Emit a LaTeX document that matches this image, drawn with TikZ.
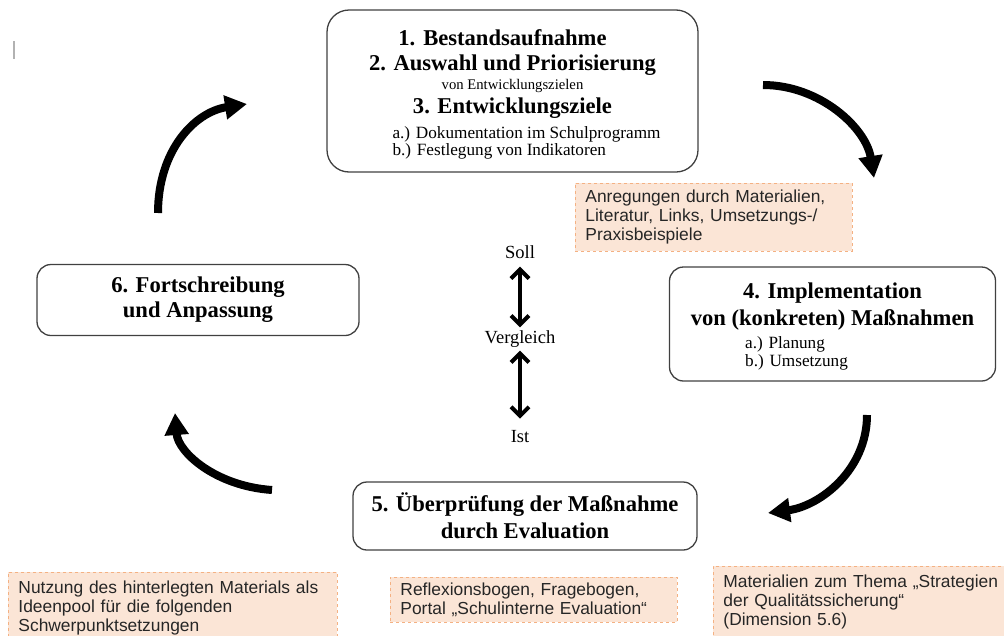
\documentclass[tikz,border=0pt]{standalone}
\usepackage{fontspec}
\setmainfont{Liberation Serif}
\newfontfamily\arialfont{Liberation Sans}
\usetikzlibrary{arrows.meta}
\definecolor{hintfill}{HTML}{FBE5D6}
\definecolor{hintline}{HTML}{F4B183}
\definecolor{boxline}{HTML}{404040}
\newcommand\headfont{\fontsize{22.6}{26}\bfseries\selectfont}
\newcommand\subfont{\fontsize{17.2}{17.5}\mdseries\selectfont}
\newcommand\smallerfont{\fontsize{14.7}{16}\mdseries\selectfont}
\newcommand\hintfont{\arialfont\fontsize{17.4}{19}\selectfont}

\begin{document}
\begin{tikzpicture}[x=1pt, y=-1pt,
            > = {Straight Barb[length=9pt,width=18pt]},
stepbox/.style = {draw=boxline, line width=1.3pt, rounded corners=14pt,
                  align=center, inner sep=0pt, font=\headfont},
   hint/.style = {fill=hintfill, draw=hintline, dashed, line width=0.9pt,
                  anchor=north west, align=left, inner xsep=10pt, inner ysep=0pt,
                  text=black!85, font=\hintfont},
  cycle/.style = {line width=8pt, -{Triangle[length=22pt,width=23pt]}},
compare/.style = {line width=4pt, <->},
  label/.style = {font=\fontsize{18.5}{20}\selectfont, inner sep=3pt}
                        ]
\useasboundingbox (0,0) rectangle (1004,635);
% stray mark
\draw[gray!60, line width=1.6pt] (14,41) -- (14,59);
% phase boxes
\node[stepbox, rounded corners=22pt, minimum width=371pt, minimum height=162pt] (plan) at (512.5,91)
    {\rule{0pt}{24pt}1.\hspace{0.35em}Bestandsaufnahme\hspace*{20pt}\\[-1pt]
     2. Auswahl und Priorisierung\\[-7pt]
     {\smallerfont von Entwicklungszielen}\\[-2pt]
     3. Entwicklungsziele\\[-1pt]
     \hspace*{28pt}{\subfont\begin{tabular}[t]{@{}l@{}}a.) Dokumentation im Schulprogramm\\ b.) Festlegung von Indikatoren\end{tabular}}};
\node[stepbox, minimum width=326pt, minimum height=114pt] (impl) at (832.5,324)
    {\rule{0pt}{22pt}4. Implementation\\[1pt]
     von (konkreten) Maßnahmen\\[-3pt]
     {\subfont\begin{tabular}[t]{@{}l@{}}a.) Planung\\ b.) Umsetzung\end{tabular}}\hspace*{72pt}};
\node[stepbox, minimum width=344pt, minimum height=68pt] (eval) at (525,516)
    {5. Überprüfung der Maßnahme\\[1pt] durch Evaluation};
\node[stepbox, minimum width=322pt, minimum height=71pt] (update) at (198,300)
    {6. Fortschreibung\\[-1pt] und Anpassung};
% hints
\node[hint, text width=257pt, minimum height=68pt] (hintimpl) at (575,183)
    {Anregungen durch Materialien,\\ Literatur, Links, Umsetzungs-/\\ Praxisbeispiele};
\node[hint, text width=309pt, minimum height=72pt] (hintupdate) at (8,572)
    {Nutzung des hinterlegten Materials als\\ Ideenpool für die folgenden\\ Schwerpunktsetzungen};
\node[hint, text width=267pt, minimum height=45pt] (hinteval) at (390,577)
    {Reflexionsbogen, Fragebogen,\\ Portal „Schulinterne Evaluation“};
\node[hint, text width=280pt, minimum height=72pt] (hintqual) at (713,566)
    {Materialien zum Thema „Strategien\\ der Qualitätssicherung“\\ (Dimension 5.6)};
% comparison
\node[label] (soll) at (520,252) {Soll};
\node[label] (vgl)  at (520,339) {Vergleich};
\node[label] (ist)  at (520,437) {Ist};
\draw[compare, shorten <=5pt] (soll) -- (vgl);
\draw[compare, shorten >=9pt] (vgl) -- (ist);
% cycle arrows
\draw[cycle] (158,213) .. controls (158,150) and (195,112) .. (247,104);
\draw[cycle] (763,85) .. controls (820,85) and (866,128) .. (874,178);
\draw[cycle] (867,415) .. controls (867,470) and (820,506) .. (768,513);
\draw[cycle] (272,490) .. controls (215,486) and (178,452) .. (175,413);
\end{tikzpicture}
\end{document}
